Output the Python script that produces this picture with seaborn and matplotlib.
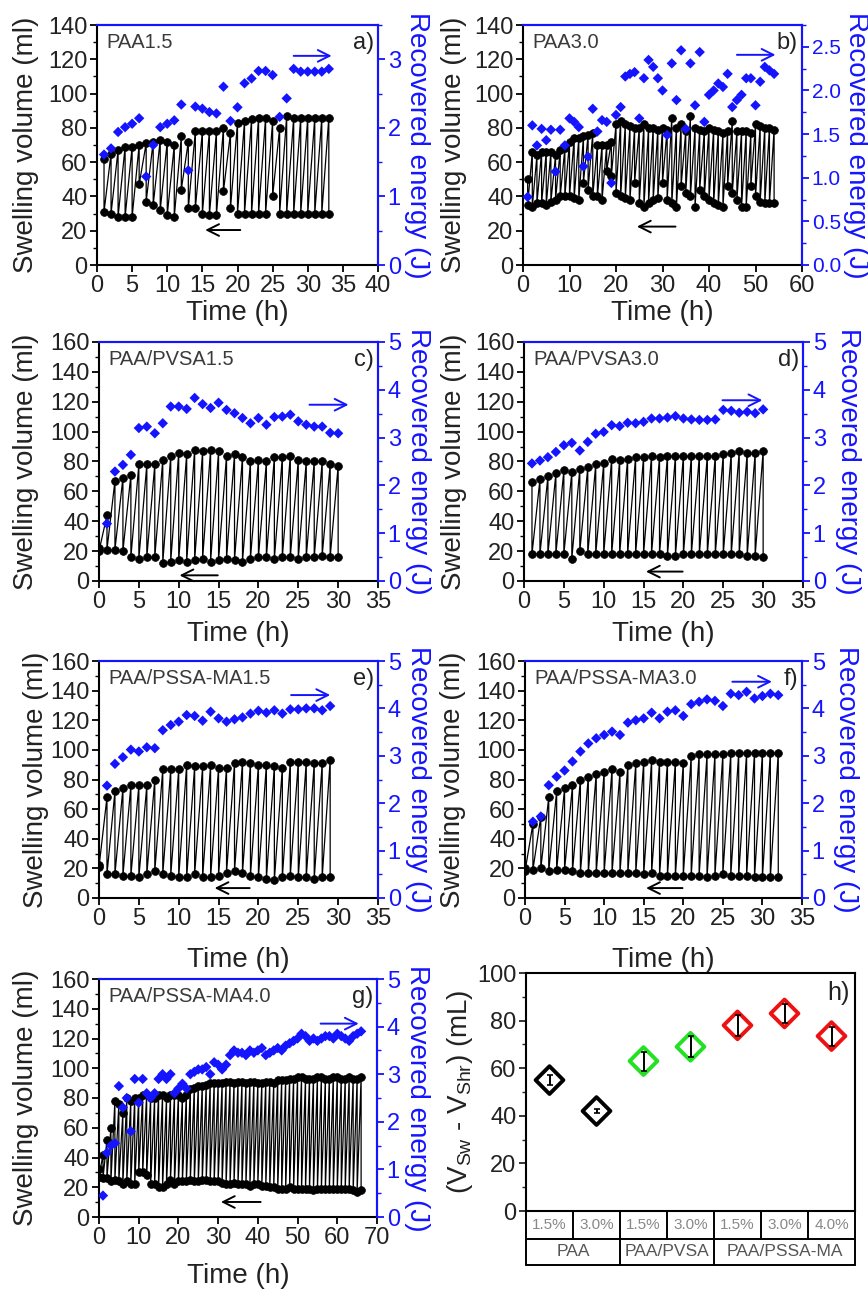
import numpy as np
import matplotlib
matplotlib.use('Agg')
import matplotlib.pyplot as plt
from matplotlib.ticker import MultipleLocator, FormatStrFormatter
import seaborn as sns

sns.set_style('ticks')
plt.rcParams['font.family'] = ['Liberation Sans', 'DejaVu Sans']
plt.rcParams['mathtext.fontset'] = 'custom'
plt.rcParams['mathtext.rm'] = 'Liberation Sans'
plt.rcParams['mathtext.it'] = 'Liberation Sans:italic'

# ---------------- data ----------------
# a) PAA1.5  (hours 1..33)
a_high = [62, 65, 67, 69, 69, 70, 71, 72, 73, 72, 70, 75, 72, 78, 78, 78, 78, 80, 77, 83,
          84, 85, 86, 86, 84, 80, 87, 86, 86, 86, 86, 86, 86]
a_low = [31, 30, 28, 28, 28, 47, 37, 35, 32, 29, 28, 44, 33, 33, 30, 29, 29, 43, 33, 30,
         30, 30, 30, 30, 40, 30, 30, 30, 30, 30, 30, 30, 30]
a_energy = [1.61, 1.70, 1.94, 2.01, 2.06, 2.14, 1.29, 1.75, 2.01, 2.06, 2.11, 2.34, 1.38,
            2.31, 2.28, 2.23, 2.21, 2.60, 2.10, 2.30, 2.65, 2.72, 2.83, 2.83, 2.77, 2.16,
            2.43, 2.86, 2.82, 2.82, 2.82, 2.82, 2.86]

# b) PAA3.0  (hours 1..54)
b_high = [50, 66, 64, 66, 66, 66, 64, 67, 68, 72,
          74, 74, 75, 76, 77, 70, 70, 70, 72, 82,
          84, 82, 81, 80, 80, 82, 80, 80, 79, 80,
          79, 86, 80, 82, 78, 87, 80, 79, 78, 80,
          79, 78, 77, 78, 84, 78, 78, 78, 77, 82,
          81, 80, 80, 79]
b_low = [35, 34, 36, 36, 35, 37, 38, 40, 40, 40,
         39, 38, 48, 44, 40, 40, 38, 55, 52, 42,
         40, 39, 38, 48, 36, 34, 36, 38, 39, 48,
         38, 36, 34, 46, 42, 40, 34, 44, 40, 38,
         36, 35, 34, 46, 42, 38, 34, 34, 46, 40,
         37, 36, 36, 36]
b_energy = [0.78, 1.60, 1.37, 1.56, 1.43, 1.55, 1.07, 1.55, 1.37, 1.68,
            1.64, 1.58, 1.13, 1.24, 1.79, 1.53, 1.66, 1.64, 0.94, 1.72,
            1.81, 2.16, 2.19, 2.21, 1.68, 2.14, 2.35, 2.27, 2.14, 2.00,
            1.49, 2.31, 1.89, 2.46, 1.56, 2.31, 1.83, 2.44, 1.64, 1.95,
            2.00, 2.08, 2.04, 2.19, 1.81, 1.89, 1.95, 2.14, 2.14, 1.83,
            2.10, 2.27, 2.23, 2.19]

# c) PAA/PVSA1.5  (hours 0..30)
c_high = [22, 44, 67, 69, 71, 78, 78, 78, 81, 84, 86, 85, 88, 87, 88, 87, 84, 85, 83, 80,
          81, 80, 83, 83, 84, 81, 80, 80, 80, 78, 77]
c_low = [20, 21, 21, 20, 16, 15, 16, 16, 12, 13, 14, 13, 14, 15, 13, 14, 15, 14, 13, 15,
         16, 16, 15, 16, 16, 15, 16, 16, 17, 16, 16]
c_energy = [1.20, 2.29, 2.43, 2.64, 3.20, 3.23, 3.09, 3.30, 3.65, 3.65, 3.60, 3.83, 3.70,
            3.62, 3.73, 3.58, 3.51, 3.41, 3.30, 3.41, 3.27, 3.43, 3.44, 3.48, 3.34, 3.27,
            3.23, 3.23, 3.10, 3.09]

# d) PAA/PVSA3.0  (hours 1..30)
d_high = [66, 68, 70, 72, 74, 73, 75, 76, 78, 79, 82, 81, 82, 83, 83, 84, 83, 84, 84, 84,
          84, 84, 84, 84, 85, 86, 87, 86, 86, 87]
d_low = [18, 18, 18, 18, 18, 15, 20, 18, 18, 18, 18, 18, 18, 18, 18, 18, 18, 17, 17, 18,
         18, 18, 18, 18, 18, 18, 18, 17, 17, 16]
d_energy = [2.46, 2.52, 2.59, 2.70, 2.84, 2.89, 2.73, 2.91, 3.08, 3.12, 3.26, 3.24, 3.31,
            3.30, 3.33, 3.40, 3.40, 3.42, 3.45, 3.40, 3.38, 3.37, 3.37, 3.38, 3.58, 3.56,
            3.52, 3.54, 3.51, 3.59]

# e) PAA/PSSA-MA1.5  (hours 0..29)
e_high = [22, 68, 72, 74, 76, 76, 76, 80, 87, 87, 87, 90, 89, 89, 90, 88, 88, 91, 92, 91,
          90, 90, 89, 88, 92, 92, 92, 91, 91, 93]
e_low = [21, 16, 16, 15, 15, 14, 16, 18, 16, 15, 14, 14, 16, 14, 14, 15, 17, 18, 17, 15,
         14, 13, 12, 14, 15, 14, 14, 13, 14, 14]
e_energy = [2.37, 2.83, 2.97, 3.13, 3.09, 3.18, 3.16, 3.54, 3.65, 3.72, 3.86, 3.84, 3.74,
            3.93, 3.79, 3.72, 3.77, 3.81, 3.89, 3.95, 3.91, 3.96, 3.89, 3.98, 3.98, 4.00,
            4.00, 3.96, 4.05]

# f) PAA/PSSA-MA3.0  (hours 0..32)
f_high = [20, 50, 55, 68, 72, 74, 76, 80, 82, 84, 85, 87, 85, 90, 91, 92, 93, 92, 92, 92,
          91, 96, 97, 97, 97, 97, 98, 98, 98, 98, 98, 98, 98]
f_low = [18, 19, 20, 18, 19, 19, 18, 17, 17, 17, 17, 17, 17, 17, 17, 16, 17, 15, 15, 15,
         15, 15, 15, 14, 15, 16, 15, 15, 15, 14, 14, 14, 14]
f_energy = [1.61, 1.72, 2.38, 2.56, 2.69, 2.88, 3.09, 3.26, 3.37, 3.44, 3.51, 3.44, 3.70,
            3.75, 3.79, 3.91, 3.79, 3.93, 3.96, 3.84, 4.09, 4.14, 4.19, 4.16, 4.05, 4.31,
            4.28, 4.35, 4.21, 4.26, 4.31, 4.28]

# g) PAA/PSSA-MA4.0  (hours 0..66)
g_high = [32,
          42, 52, 60, 78, 76, 70, 80, 78, 80, 80,
          82, 82, 80, 80, 82, 82, 80, 82, 82, 82,
          80, 82, 86, 87, 88, 88, 89, 90, 90, 90,
          90, 91, 91, 90, 91, 91, 90, 91, 91, 90,
          90, 91, 91, 90, 92, 92, 92, 93, 93, 94,
          94, 93, 93, 93, 94, 94, 93, 93, 94, 94,
          93, 93, 94, 93, 93, 94]
g_low = [27,
         26, 26, 24, 25, 24, 22, 24, 22, 22, 30,
         30, 28, 22, 22, 20, 20, 22, 25, 22, 24,
         24, 24, 25, 24, 24, 25, 25, 24, 24, 24,
         23, 22, 22, 23, 22, 22, 22, 21, 22, 22,
         21, 21, 20, 20, 19, 19, 19, 20, 19, 19,
         19, 19, 19, 18, 19, 19, 19, 19, 19, 19,
         19, 19, 19, 18, 17, 18]
g_energy = [0.45, 1.35, 1.50, 1.55, 2.75, 2.30, 2.50, 1.80, 2.90, 2.40,
            2.90, 2.60, 2.50, 2.60, 2.90, 3.00, 2.90, 3.00, 2.60, 2.70,
            2.80, 2.70, 3.00, 3.05, 3.10, 3.10, 3.15, 3.00, 3.25, 3.20,
            3.10, 3.20, 3.40, 3.50, 3.45, 3.45, 3.40, 3.50, 3.45, 3.50,
            3.55, 3.40, 3.45, 3.50, 3.55, 3.50, 3.60, 3.65, 3.70, 3.75,
            3.85, 3.80, 3.70, 3.75, 3.70, 3.75, 3.80, 3.80, 3.75, 3.85,
            3.80, 3.75, 3.70, 3.80, 3.85, 3.90]

# h) summary
h_conc = ['1.5%', '3.0%', '1.5%', '3.0%', '1.5%', '3.0%', '4.0%']
h_group = ['PAA', 'PAA', 'PAA/PVSA', 'PAA/PVSA', 'PAA/PSSA-MA', 'PAA/PSSA-MA', 'PAA/PSSA-MA']
h_vals = [55, 42, 63, 69, 78, 83, 73.5]
h_err = [2, 1, 4, 4.5, 4.5, 4, 4]

# ---------------- style ----------------
BLUE = '#1414ff'
DARK = '#222222'
W, H = 868, 1291
fig = plt.figure(figsize=(W / 100, H / 100), dpi=100)
fig.patch.set_facecolor('white')


def add_ax(l, t, r, b):
    return fig.add_axes([l / W, 1 - b / H, (r - l) / W, (b - t) / H])


def swell_panel(box, high, low, start_hour, energy, xmax, xstep, ymax, rmax, rstep, rfmt,
                name, letter, barrow, karrow, ylab_dx, rlab_dx, xlab_dy, rtick_size=17):
    l, t, r, b = box
    ax = add_ax(*box)
    hours = np.arange(start_hour, start_hour + len(high))
    xs = np.repeat(hours, 2)
    ys = np.column_stack([high, low]).ravel()
    sns.lineplot(x=xs, y=ys, sort=False, estimator=None, color='black', lw=0.9,
                 marker='o', markersize=5.6, markeredgecolor='black', markeredgewidth=0.5,
                 ax=ax)
    ax.set_xlim(0, xmax)
    ax.set_ylim(0, ymax)
    ax.set_xticks(np.arange(0, xmax + 0.01, xstep))
    ax.set_yticks(np.arange(0, ymax + 0.01, 20))
    ax.yaxis.set_minor_locator(MultipleLocator(10))
    ax.tick_params(which='both', direction='out', top=False, right=False,
                   labelsize=17, colors='black', labelcolor=DARK)
    ax.tick_params(which='major', length=5, width=1.3)
    ax.tick_params(which='minor', length=3, width=1.0)
    ax.tick_params(axis='x', pad=2)
    ax.tick_params(axis='y', pad=2)

    ax2 = ax.twinx()
    eh = np.arange(1, len(energy) + 1)
    sns.scatterplot(x=eh, y=energy, marker='D', color=BLUE, s=28, edgecolor='none',
                    ax=ax2, zorder=3)
    ax2.set_ylim(0, rmax)
    ax2.set_yticks(np.arange(0, rmax + 1e-6, rstep))
    ax2.yaxis.set_minor_locator(MultipleLocator(rstep / 2))
    ax2.yaxis.set_major_formatter(FormatStrFormatter(rfmt))
    ax2.tick_params(axis='y', which='both', direction='out', colors=BLUE,
                    labelsize=rtick_size, pad=2)
    ax2.tick_params(axis='y', which='major', length=5, width=1.3)
    ax2.tick_params(axis='y', which='minor', length=3, width=1.0)

    for a in (ax, ax2):
        for s in a.spines.values():
            s.set_linewidth(1.5)
        a.spines['top'].set_color(BLUE)
        a.spines['right'].set_color(BLUE)
        a.spines['left'].set_color('black')
        a.spines['bottom'].set_color('black')
    ax2.spines['left'].set_visible(False)
    ax2.spines['bottom'].set_visible(False)

    wpx = r - l
    hpx = b - t
    ax.set_ylabel('Swelling volume (ml)', fontsize=20, color=DARK, va='center', ha='center')
    ax.yaxis.set_label_coords(ylab_dx / wpx, 0.5)
    ax2.set_ylabel('Recovered energy (J)', fontsize=20, color=BLUE, rotation=270,
                   va='center', ha='center')
    ax2.yaxis.set_label_coords(1 + rlab_dx / wpx, 0.5)
    ax.set_xlabel('Time (h)', fontsize=20, color=DARK, va='center')
    ax.xaxis.set_label_coords(0.5, -xlab_dy / hpx)

    ax2.text(0.035, 0.925, name, transform=ax.transAxes, fontsize=14.5, color='#3a3a3a',
             ha='left', va='center')
    ax2.text(0.985, 0.925, letter, transform=ax.transAxes, fontsize=17, color=DARK,
             ha='right', va='center')

    ax2.annotate('', xy=(barrow[1], barrow[2]), xytext=(barrow[0], barrow[2]),
                 xycoords=ax.transData, textcoords=ax.transData,
                 arrowprops=dict(arrowstyle='->,head_length=0.7,head_width=0.35',
                                 color=BLUE, lw=1.4, shrinkA=0, shrinkB=0,
                                 mutation_scale=12))
    ax2.annotate('', xy=(karrow[1], karrow[2]), xytext=(karrow[0], karrow[2]),
                 xycoords=ax.transData, textcoords=ax.transData,
                 arrowprops=dict(arrowstyle='->,head_length=0.7,head_width=0.35',
                                 color='black', lw=1.4, shrinkA=0, shrinkB=0,
                                 mutation_scale=12))
    return ax, ax2


swell_panel((97, 25, 378, 265), a_high, a_low, 1, a_energy, 40, 5, 140, 3.5, 1, '%d',
            'PAA1.5', 'a)', (28, 33.4, 122), (20.4, 15.4, 20.4), -71, 39, 48)
swell_panel((523, 25, 802, 265), b_high, b_low, 1, b_energy, 60, 10, 140, 2.75, 0.5, '%.1f',
            'PAA3.0', 'b)', (46, 54.3, 122.6), (32.8, 24.5, 22.4), -69, 54, 48,
            rtick_size=15)
swell_panel((99, 342, 378, 581), c_high, c_low, 0, c_energy, 35, 5, 160, 5, 1, '%d',
            'PAA/PVSA1.5', 'c)', (26.4, 31.3, 118), (14.9, 10.1, 3.8), -73, 40, 53)
swell_panel((524, 342, 803, 581), d_high, d_low, 1, d_energy, 35, 5, 160, 5, 1, '%d',
            'PAA/PVSA3.0', 'd)', (24.9, 29.9, 121), (19.9, 15.3, 6.3), -70, 45, 53)
swell_panel((99, 661, 378, 898), e_high, e_low, 0, e_energy, 35, 5, 160, 5, 1, '%d',
            'PAA/PSSA-MA1.5', 'e)', (24.1, 29.0, 137), (18.9, 14.5, 6.7), -63, 40, 62)
swell_panel((525, 661, 802, 898), f_high, f_low, 0, f_energy, 35, 5, 160, 5, 1, '%d',
            'PAA/PSSA-MA3.0', 'f)', (26.2, 31.2, 146), (19.9, 15.3, 6.7), -72, 44, 62)
swell_panel((99, 979, 377, 1217), g_high, g_low, 0, g_energy, 70, 10, 160, 5, 1, '%d',
            'PAA/PSSA-MA4.0', 'g)', (55.8, 65.4, 130), (40.7, 30.7, 10.1), -73, 40, 59)

# ---------------- panel h ----------------
hl, ht, hr, hb = 526, 973, 855, 1211
axh = add_ax(hl, ht, hr, hb)
pal = {'PAA': '#000000', 'PAA/PVSA': '#22e022', 'PAA/PSSA-MA': '#ee1111'}
hx = np.arange(len(h_vals))
sns.scatterplot(x=hx, y=h_vals, hue=h_group, palette=pal, marker='D', s=200,
                linewidth=2.8, legend=False, ax=axh, zorder=3)
coll = axh.collections[0]
coll.set_facecolor('none')
coll.set_edgecolor([pal[g] for g in h_group])
axh.errorbar(hx, h_vals, yerr=h_err, fmt='none', ecolor='black', elinewidth=1.4,
             capsize=2.5, capthick=1.2, zorder=4)
axh.set_xlim(-0.5, len(h_vals) - 0.5)
axh.set_ylim(0, 100)
axh.set_yticks(np.arange(0, 101, 20))
axh.yaxis.set_minor_locator(MultipleLocator(10))
axh.set_xticks([])
axh.tick_params(axis='y', which='both', direction='out', labelsize=17, labelcolor=DARK, pad=2)
axh.tick_params(axis='y', which='major', length=5, width=1.3)
axh.tick_params(axis='y', which='minor', length=3, width=1.0)
for s in axh.spines.values():
    s.set_linewidth(1.5)
    s.set_color('black')
axh.set_ylabel(r'(V$_{\mathrm{Sw}}$ - V$_{\mathrm{Shr}}$) (mL)', fontsize=20, color=DARK,
               va='center', ha='center')
axh.yaxis.set_label_coords(-66 / (hr - hl), 0.5)
axh.text(0.985, 0.915, 'h)', transform=axh.transAxes, fontsize=18, color=DARK,
         ha='right', va='center')

# category table under the axes
row1 = -28 / (hb - ht)
row2 = -54 / (hb - ht)
n = len(h_vals)
lk = dict(transform=axh.transAxes, clip_on=False, color='black', lw=1.4)
for y in (row1, row2):
    axh.plot([0, 1], [y, y], **lk)
for xv in (0, 1):
    axh.plot([xv, xv], [0, row2], **lk)
for k in range(1, n):
    axh.plot([k / n, k / n], [0, row1], **lk)
groups_order = []
for g in h_group:
    if g not in groups_order:
        groups_order.append(g)
start = 0
for g in groups_order:
    cnt = h_group.count(g)
    end = start + cnt
    if end < n:
        axh.plot([end / n, end / n], [row1, row2], **lk)
    axh.text((start + end) / 2 / n, (row1 + row2) / 2, g, transform=axh.transAxes,
             ha='center', va='center', fontsize=12.5, color='#555555')
    start = end
for k, c in enumerate(h_conc):
    axh.text((k + 0.5) / n, row1 / 2, c, transform=axh.transAxes, ha='center',
             va='center', fontsize=11, color='#888888')

fig.savefig('out.png', dpi=100, facecolor='white')
